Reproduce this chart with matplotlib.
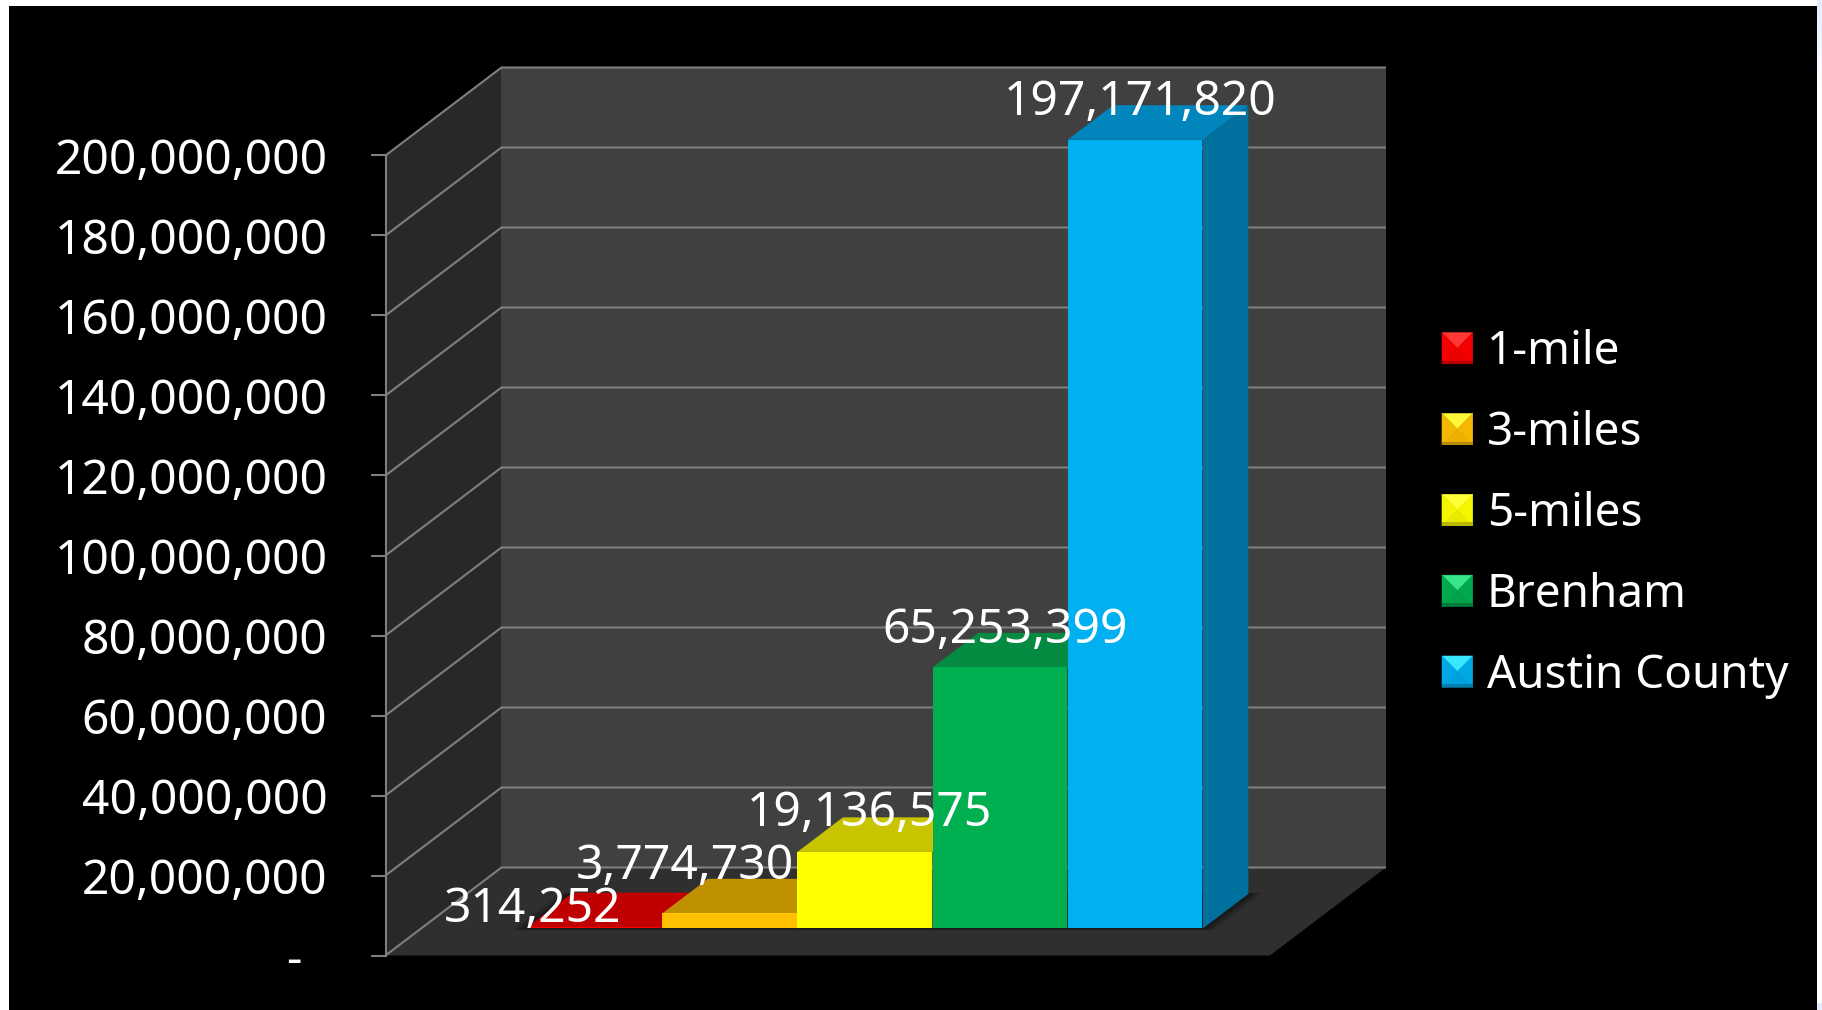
import numpy as np
import matplotlib
matplotlib.use("Agg")
import matplotlib.pyplot as plt
from matplotlib.colors import LinearSegmentedColormap
from matplotlib.legend_handler import HandlerBase
from matplotlib.patches import Patch, Polygon
from matplotlib.ticker import FixedLocator, FuncFormatter
from matplotlib.transforms import ScaledTranslation

# data
series = ["1-mile", "3-miles", "5-miles", "Brenham", "Austin County"]
values = [314252, 3774730, 19136575, 65253399, 197171820]
y_ticks = [0, 20000000, 40000000, 60000000, 80000000, 100000000,
           120000000, 140000000, 160000000, 180000000, 200000000]

# colours: front, top, side
front_colors = ["#FF0000", "#FFC000", "#FFFF00", "#00B050", "#00B0F0"]
top_colors = ["#C00000", "#BF9000", "#C9C400", "#058A41", "#0085BC"]
side_colors = ["#9A0000", "#A07800", "#A8A400", "#006F35", "#00719F"]

# label offset from the top of the front face, in pixels
label_dx = [-62, -45, 4, 5, 5]
label_dy = [5, 34, 26, 24, 25]

W, H = 1822, 1010
DPI = 100
PX = 72 / DPI
FONT_SIZE = 34.6

# oblique depth of the chart box
DEPTH_X = 116 / 135.2
DEPTH_Y = 22000000
BAR_FRONT = 0.307
BAR_BACK = 0.70


def project(x, depth, value):
    return x + depth * DEPTH_X, value + depth * DEPTH_Y


def face(ax, corners, color, z, **kw):
    pts = [project(*c) for c in corners]
    ax.add_patch(Polygon(pts, closed=True, facecolor=color, edgecolor="none",
                         clip_on=False, zorder=z, **kw))


class BevelHandler(HandlerBase):
    # pyramid-shaped legend key
    def create_artists(self, legend, orig, xd, yd, width, height, fontsize, trans):
        base = np.array(matplotlib.colors.to_rgb(orig.get_facecolor()))
        x0, x1 = -xd, -xd + width
        y0, y1 = -yd, -yd + height
        cx, cy = (x0 + x1) / 2, (y0 + y1) / 2
        shades = [(0.92, 0.0, [(x0, y0), (x1, y0), (cx, cy)]),
                  (1.0, 0.22, [(x0, y1), (x1, y1), (cx, cy)]),
                  (0.96, 0.0, [(x0, y0), (x0, y1), (cx, cy)]),
                  (0.96, 0.0, [(x1, y0), (x1, y1), (cx, cy)])]
        out = []
        for f, lift, pts in shades:
            c = np.clip(base * f + lift, 0, 1)
            out.append(Polygon(pts, closed=True, facecolor=c, edgecolor=c, lw=0.4, transform=trans))
        # darker lower rim
        rim = y0 + height * 0.1
        out.append(Polygon([(x0, y0), (x1, y0), (x1, rim), (x0, rim)],
                           closed=True, facecolor=base * 0.72, edgecolor="none", transform=trans))
        return out


plt.rcParams["font.family"] = ["Noto Sans", "DejaVu Sans"]

fig = plt.figure(figsize=(W / DPI, H / DPI), dpi=DPI, facecolor="white")

# slide background showing round the panel
bg = fig.add_axes([0, 0, 1, 1], zorder=0)
strip = LinearSegmentedColormap.from_list("strip", [
    (0, "#FFFFFF"), (0.205, "#FFFFFF"), (0.25, "#FBF7E8"), (0.32, "#A9C5F5"),
    (0.55, "#BBCFFA"), (0.8, "#D0DCFB"), (1, "#E2EBFF")])
bg.imshow(np.linspace(0, 1, 512).reshape(1, -1), cmap=strip, aspect="auto",
          extent=[0, W, H, H - 7], vmin=0, vmax=1)
edge = LinearSegmentedColormap.from_list("edge", ["#E2EBFF", "#FFFFFF"])
bg.imshow(np.linspace(0, 1, 64).reshape(-1, 1), cmap=edge, aspect="auto",
          extent=[1817, W, 85, 0], vmin=0, vmax=1)
bg.set_xlim(0, W)
bg.set_ylim(H, 0)
bg.axis("off")

# black panel
panel = fig.add_axes([9 / W, 0, (1817 - 9) / W, (H - 6) / H], zorder=1)
panel.set_facecolor("black")
panel.set_xticks([])
panel.set_yticks([])
for s in panel.spines.values():
    s.set_visible(False)

# axes = front plane of the box
ax = fig.add_axes([385.5 / W, (H - 955.5) / H, (1270 - 385.5) / W, 800 / H], zorder=2)
ax.patch.set_visible(False)
x_min, x_max = -0.785, 5.761
ax.set_xlim(x_min, x_max)
ax.set_ylim(0, 200000000)
top_val = 200000000

# walls
face(ax, [(x_min, 0, 0), (x_min, 1, 0), (x_min, 1, top_val), (x_min, 0, top_val)], "#282828", 1)
face(ax, [(x_min, 1, 0), (x_max, 1, 0), (x_max, 1, top_val), (x_min, 1, top_val)], "#404040", 1)
face(ax, [(x_min, 0, 0), (x_max, 0, 0), (x_max, 1, 0), (x_min, 1, 0)], "#2F2F2F", 1)

# gridlines along the side wall and the back wall
for t in y_ticks:
    xs, ys = zip(project(x_min, 0, t), project(x_min, 1, t), project(x_max, 1, t))
    ax.plot(xs, ys, color="#7F7F7F", lw=1.5, clip_on=False, zorder=2, solid_capstyle="butt")

# floor shadow of the bars
for off, a in [(0.10, 0.12), (0.07, 0.16), (0.04, 0.22)]:
    face(ax, [(-off, BAR_FRONT - 0.015, 0), (5 + off, BAR_FRONT - 0.015, 0),
              (5 + off, BAR_BACK + 0.01, 0), (-off, BAR_BACK + 0.01, 0)],
         "#000000", 3, alpha=a)

# bars, left to right so each one hides the side of the one before
for i, v in enumerate(values):
    x0, x1 = i, i + 1
    face(ax, [(x1, BAR_FRONT, 0), (x1, BAR_BACK, 0), (x1, BAR_BACK, v), (x1, BAR_FRONT, v)],
         side_colors[i], 4 + i)
    face(ax, [(x0, BAR_FRONT, v), (x1, BAR_FRONT, v), (x1, BAR_BACK, v), (x0, BAR_BACK, v)],
         top_colors[i], 4 + i)
    px, py = project(x0, BAR_FRONT, 0)
    qx, qy = project(x1, BAR_FRONT, v)
    ax.bar(px, qy - py, width=qx - px - 0.006, bottom=py, align="edge", color=front_colors[i],
           clip_on=False, zorder=4 + i, linewidth=0)

# data labels
for i, v in enumerate(values):
    ax.annotate(f"{v:,}", xy=project(i + 0.5, BAR_FRONT, v),
                xytext=(label_dx[i] * PX, label_dy[i] * PX), textcoords="offset points",
                ha="center", va="baseline", color="white", fontsize=FONT_SIZE,
                annotation_clip=False, zorder=20)

# value axis
for name, s in ax.spines.items():
    s.set_visible(name == "left")
ax.spines["left"].set_color("#7F7F7F")
ax.spines["left"].set_linewidth(1.5)
ax.spines["left"].set_zorder(3)
ax.set_xticks([])
ax.yaxis.set_major_locator(FixedLocator(y_ticks))
ax.yaxis.set_major_formatter(FuncFormatter(lambda v, pos: f"{v:,.0f}" if v else "-  "))
ax.tick_params(axis="y", length=15 * PX, width=1.5, color="#7F7F7F", pad=43 * PX,
               labelcolor="white", labelsize=FONT_SIZE)
fig.canvas.draw()
shift = ScaledTranslation(0, -0.5 / DPI, fig.dpi_scale_trans)
for label in ax.get_yticklabels():
    label.set_transform(label.get_transform() + shift)

# legend
handles = [Patch(facecolor=c, label=s) for c, s in zip(front_colors, series)]
leg = fig.legend(handles=handles, loc="center left", bbox_to_anchor=(1442 / W, 1 - 514 / H),
                 bbox_transform=fig.transFigure, frameon=False, fontsize=33, labelcolor="white",
                 handlelength=0.67, handleheight=0.67, handletextpad=0.31, labelspacing=0.76,
                 borderpad=0, borderaxespad=0,
                 handler_map={Patch: BevelHandler()})
leg.set_zorder(30)

fig.savefig("out.png", dpi=DPI, facecolor=fig.get_facecolor())
